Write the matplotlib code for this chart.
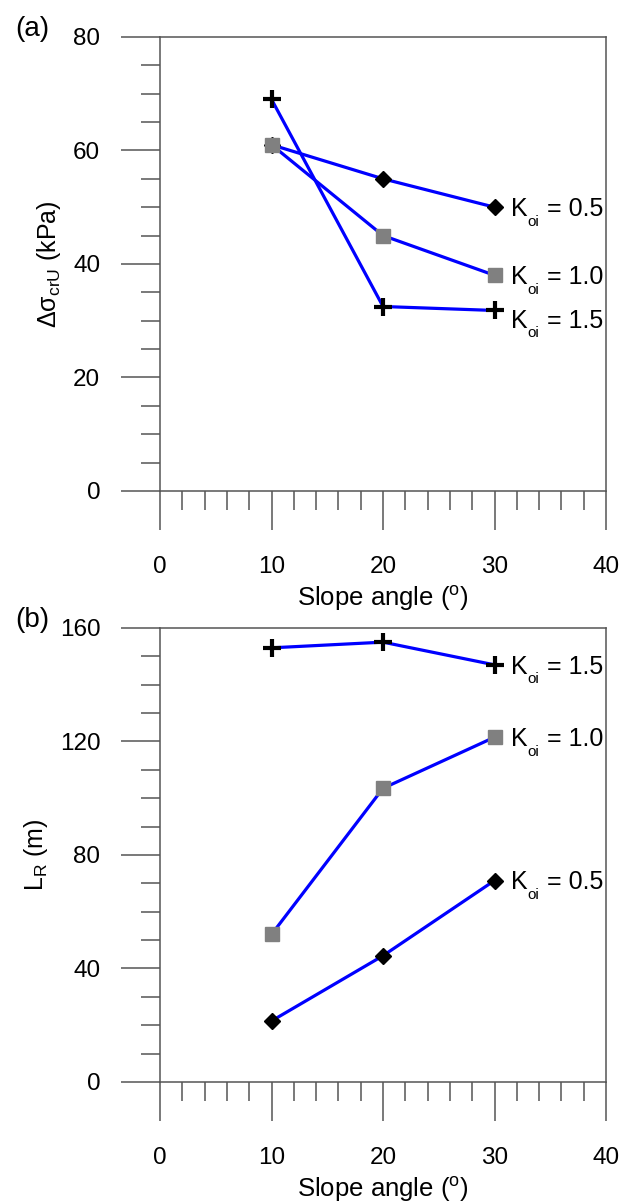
import matplotlib
matplotlib.use('Agg')
import matplotlib.pyplot as plt
from matplotlib.ticker import MultipleLocator

plt.rcParams['font.family'] = ['Liberation Sans', 'DejaVu Sans']
plt.rcParams['mathtext.fontset'] = 'custom'
plt.rcParams['mathtext.rm'] = 'Liberation Sans'
plt.rcParams['mathtext.it'] = 'Liberation Sans'
plt.rcParams['mathtext.default'] = 'regular'

slope = [10, 20, 30]
koi_labels = ['0.5', '1.0', '1.5']

# panel (a): delta sigma_crU (kPa)
ds_k05 = [61, 55, 50]
ds_k10 = [61, 45, 38]
ds_k15 = [69, 32.5, 31.8]

# panel (b): L_R (m)
lr_k05 = [21.5, 44.5, 71]
lr_k10 = [52, 103.5, 121.5]
lr_k15 = [153, 155, 147]

blue = '#0000ff'
spine_col = '#555555'
fs = 17.5
lab_fs = 18

styles = [
    dict(marker='D', ms=8.5, mfc='black', mec='black'),
    dict(marker='s', ms=10.5, mfc='#808080', mec='#808080'),
    dict(marker='+', ms=13, mec='black', mew=3),
]

fig = plt.figure(figsize=(6.32, 12.03), dpi=100)
ax1 = fig.add_axes([0.2532, 0.5919, 0.7057, 0.3774])
ax2 = fig.add_axes([0.2532, 0.1006, 0.7057, 0.3774])


def koi_label(ax, x, y, val, dy=0):
    # K with a small, low "oi" subscript, then " = value"
    x0, y0 = 12, -6.4 + dy
    kw = dict(xy=(x, y), textcoords='offset points', va='baseline', ha='left')
    ax.annotate('K', xytext=(x0, y0), fontsize=lab_fs, **kw)
    ax.annotate('oi', xytext=(x0 + 12, y0 - 7), fontsize=11, **kw)
    ax.annotate(' = ' + val, xytext=(x0 + 20.5, y0), fontsize=lab_fs, **kw)


def draw(ax, series, ymax, ymajor, yminor, ylabel, tag, dys):
    for vals, st, lab, dy in zip(series, styles, koi_labels, dys):
        ax.plot(slope, vals, color=blue, lw=2.3, zorder=3, clip_on=False, **st)
        koi_label(ax, slope[-1], vals[-1], lab, dy)
    ax.set_xlim(0, 40)
    ax.set_ylim(0, ymax)
    ax.xaxis.set_major_locator(MultipleLocator(10))
    ax.xaxis.set_minor_locator(MultipleLocator(2))
    ax.yaxis.set_major_locator(MultipleLocator(ymajor))
    ax.yaxis.set_minor_locator(MultipleLocator(yminor))
    ax.tick_params(which='major', direction='out', length=28, width=1.1,
                   color=spine_col, labelsize=fs)
    ax.tick_params(which='minor', direction='out', length=14, width=1.1,
                   color=spine_col)
    ax.tick_params(axis='x', which='major', pad=19)
    ax.tick_params(axis='y', which='major', pad=15)
    for s in ax.spines.values():
        s.set_color(spine_col)
        s.set_linewidth(1.1)
    ax.set_xlabel('Slope angle ($^{o}$)', fontsize=18.5, labelpad=4)
    ax.set_ylabel(ylabel, fontsize=18, labelpad=7)
    ax.text(-0.247, 1.018, tag, transform=ax.transAxes, fontsize=20,
            ha='right', va='center')


draw(ax1, [ds_k05, ds_k10, ds_k15], 80, 20, 5,
     r'$\Delta\sigma_{crU}$ (kPa)', '(a)', [0, 0, -6])
draw(ax2, [lr_k05, lr_k10, lr_k15], 160, 40, 10, 'L$_{R}$ (m)', '(b)',
     [0, 0, 0])

fig.savefig('out.png', dpi=100)
